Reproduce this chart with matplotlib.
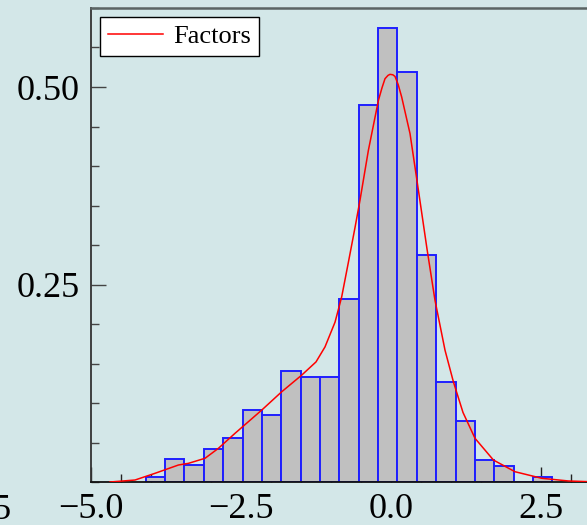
import numpy as np
import matplotlib.pyplot as plt
from matplotlib.ticker import MultipleLocator

# Histogram bins (density)
bin_start = -4.088
bin_width = 0.3227
heights = [0.0067, 0.0287, 0.0211, 0.0421, 0.056, 0.091, 0.0843, 0.1404,
           0.133, 0.133, 0.2314, 0.4767, 0.5745, 0.5189, 0.2874, 0.126,
           0.0771, 0.0282, 0.0206, 0.0, 0.0067]

# KDE curve points ("Factors")
kde_x = [-4.683, -4.267, -3.933, -3.543, -3.377, -3.1, -2.877, -2.6, -2.155,
         -1.822, -1.488, -1.25, -1.1, -0.933, -0.822, -0.71, -0.6, -0.517,
         -0.377, -0.21, -0.15, -0.1, -0.05, -0.017, 0.03, 0.067, 0.12, 0.178,
         0.317, 0.457, 0.6, 0.733, 0.9, 1.04, 1.2, 1.4, 1.707, 2.067, 2.512,
         2.957, 3.295, 3.6]
kde_y = [0.0, 0.0025, 0.011, 0.0215, 0.0236, 0.030, 0.0426, 0.0616, 0.091,
         0.1142, 0.1353, 0.152, 0.171, 0.2023, 0.2343, 0.2782, 0.322, 0.3566,
         0.4198, 0.483, 0.499, 0.5105, 0.5147, 0.516, 0.5155, 0.5134, 0.503,
         0.4873, 0.441, 0.3692, 0.295, 0.2301, 0.1669, 0.1268, 0.088, 0.0553,
         0.0278, 0.013, 0.0047, 0.0013, 0.0004, 0.0]

bg = "#d3e7e8"
plt.rcParams["font.family"] = ["Liberation Serif", "DejaVu Serif"]

fig = plt.figure(figsize=(5.87, 5.25), dpi=100, facecolor=bg)
ax = fig.add_axes([91 / 587, 43 / 525, 540 / 587, 474 / 525], facecolor=bg)

lefts = bin_start + bin_width * np.arange(len(heights))
ax.bar(lefts, heights, width=bin_width, align="edge", color="#c0c0c0",
       edgecolor="#1f1fff", linewidth=1.4, zorder=2)
ax.plot(kde_x, kde_y, color="#ff0000", linewidth=1.1, label="Factors", zorder=3)

ax.set_xlim(-5, 4)
ax.set_ylim(0, 0.6)

ax.xaxis.set_major_locator(MultipleLocator(2.5))
ax.xaxis.set_minor_locator(MultipleLocator(0.5))
ax.set_yticks([0.25, 0.5])
ax.yaxis.set_minor_locator(MultipleLocator(0.05))
ax.xaxis.set_major_formatter(lambda v, p: f"{v:.1f}".replace("-", "\u2212"))
ax.yaxis.set_major_formatter(lambda v, p: f"{v:.2f}")

ax.tick_params(axis="both", which="major", direction="in", length=11,
               width=1.0, labelsize=26, pad=8, zorder=4)
ax.tick_params(axis="both", which="minor", direction="in", length=5.5,
               width=1.0)
ax.tick_params(axis="y", which="both", colors="#444444", labelcolor="black")
ax.tick_params(axis="x", which="both", colors="#222222", labelcolor="black")
for lbl in ax.get_xticklabels():
    if lbl.get_text().startswith("\u2212"):
        lbl.set_x(lbl.get_position()[0])

ax.spines["right"].set_visible(False)
ax.spines["left"].set_color("#333333")
ax.spines["left"].set_linewidth(1.3)
ax.spines["bottom"].set_color("#111111")
ax.spines["bottom"].set_linewidth(1.3)
ax.spines["top"].set_color("#5a6464")
ax.spines["top"].set_linewidth(1.8)

leg = ax.legend(loc="upper left", fontsize=19, fancybox=False,
                edgecolor="black", framealpha=1, borderpad=0.3,
                borderaxespad=0.33, handletextpad=0.4, handlelength=2.1)
leg.get_frame().set_linewidth(1.0)

# tail of a neighbouring panel's tick label, cut by the image edge
fig.text(12 / 587, 6 / 525, "2.5", ha="right", va="baseline", fontsize=26)

fig.savefig("out.png", dpi=100, facecolor=bg)
